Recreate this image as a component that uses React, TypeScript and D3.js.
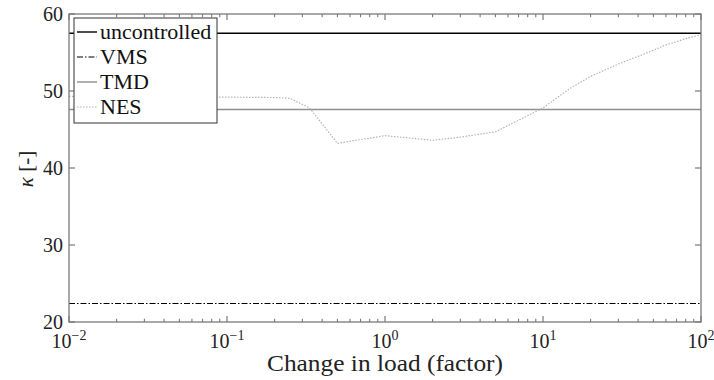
import React from "react";
import * as d3 from "d3";

// Load change factors and damping-ratio curves
const loadRange = [0.01, 100];
const uncontrolled = [57.5, 57.5];
const vms = [22.4, 22.4];
const tmd = [47.6, 47.6];
const nesLoad = [0.01, 0.02, 0.05, 0.1, 0.2, 0.25, 0.333, 0.5, 1, 2, 3, 4, 5, 10, 13, 15, 20, 30, 40, 50, 60, 70, 80, 100];
const nesKappa = [49.3, 49.3, 49.25, 49.2, 49.15, 49.05, 47.8, 43.2, 44.2, 43.6, 44.0, 44.4, 44.7, 47.8, 49.5, 50.4, 51.9, 53.5, 54.5, 55.3, 56.0, 56.4, 56.8, 57.3];
const yTicks = [20, 30, 40, 50, 60];
const xTickExps = [-2, -1, 0, 1, 2];
const legendNames = ["uncontrolled", "VMS", "TMD", "NES"];

const W = 714;
const H = 380;
const left = 69, right = 701, top = 14, bottom = 322;
const axisColor = "#7a7a7a";
const font = "Liberation Serif";

export default function App() {
  const x = d3.scaleLog().domain([0.01, 100]).range([left, right]);
  const y = d3.scaleLinear().domain([20, 60]).range([bottom, top]);
  const line = d3
    .line<[number, number]>()
    .x((d) => x(d[0]))
    .y((d) => y(d[1]));

  const pairs = (xs: number[], ys: number[]) => xs.map((v, i) => [v, ys[i]] as [number, number]);

  const styles = [
    { stroke: "#000", width: 1.4, dash: undefined as string | undefined },
    { stroke: "#000", width: 1.1, dash: "6,2,1.5,2" },
    { stroke: "#8f8f8f", width: 1.4, dash: undefined },
    { stroke: "#b4b4b4", width: 1.2, dash: "1.5,1.5" },
  ];

  const series = [
    pairs(loadRange, uncontrolled),
    pairs(loadRange, vms),
    pairs(loadRange, tmd),
    pairs(nesLoad, nesKappa),
  ];

  // minor log ticks
  const minor: number[] = [];
  for (let e = -2; e < 2; e++) {
    for (let m = 2; m <= 9; m++) minor.push(m * Math.pow(10, e));
  }

  const legendY = [32, 57, 82, 107];

  return (
    <div style={{ position: "absolute", left: 0, top: 0, width: W, height: H, fontFamily: font }}>
      <svg width={W} height={H} fontFamily={font} style={{ display: "block", fontFamily: font }}>
        <rect x={0} y={0} width={W} height={H} fill="#fff" />
        {/* data */}
        <g fill="none">
          {series.map((s, i) => (
            <path
              key={i}
              d={line(s) || ""}
              stroke={styles[i].stroke}
              strokeWidth={styles[i].width}
              strokeDasharray={styles[i].dash}
            />
          ))}
        </g>

        {/* axes box */}
        <rect x={left} y={top} width={right - left} height={bottom - top} fill="none" stroke={axisColor} strokeWidth={1.3} />

        {/* y ticks */}
        {yTicks.map((t) => (
          <g key={t}>
            <line x1={left} x2={left + 6} y1={y(t)} y2={y(t)} stroke={axisColor} strokeWidth={1.2} />
            <line x1={right} x2={right - 6} y1={y(t)} y2={y(t)} stroke={axisColor} strokeWidth={1.2} />
            <text x={63} y={y(t) + 7} textAnchor="end" fontSize={20} fill="#222" fontFamily={font}>
              {t}
            </text>
          </g>
        ))}

        {/* x ticks */}
        {xTickExps.map((e) => {
          const px = x(Math.pow(10, e));
          return (
            <g key={e}>
              <line x1={px} x2={px} y1={bottom} y2={bottom - 6} stroke={axisColor} strokeWidth={1.2} />
              <line x1={px} x2={px} y1={top} y2={top + 6} stroke={axisColor} strokeWidth={1.2} />
              <text x={px} y={348} textAnchor="middle" fontSize={20} fill="#222" fontFamily={font}>
                10
                <tspan fontSize={14} dy={-8}>
                  {e < 0 ? "\u2212" + Math.abs(e) : String(e)}
                </tspan>
              </text>
            </g>
          );
        })}
        {minor.map((m, i) => (
          <g key={i}>
            <line x1={x(m)} x2={x(m)} y1={bottom} y2={bottom - 3.3} stroke={axisColor} strokeWidth={1.1} />
            <line x1={x(m)} x2={x(m)} y1={top} y2={top + 3.3} stroke={axisColor} strokeWidth={1.1} />
          </g>
        ))}

        {/* axis titles */}
        <text
          x={(left + right) / 2}
          y={371}
          textAnchor="middle"
          fontSize={24}
          fill="#222"
          fontFamily={font}
          textLength={236}
          lengthAdjust="spacingAndGlyphs"
        >
          Change in load (factor)
        </text>
        <text transform={`translate(33,169) rotate(-90)`} textAnchor="middle" fontSize={21} fill="#222" fontFamily={font}>
          <tspan fontStyle="italic">κ</tspan> [-]
        </text>

        {/* legend */}
        <rect x={74} y={18} width={143} height={105} fill="#fff" stroke="#333" strokeWidth={1} />
        {legendNames.map((n, i) => (
          <g key={n}>
            <line
              x1={77}
              x2={97}
              y1={legendY[i]}
              y2={legendY[i]}
              stroke={styles[i].stroke}
              strokeWidth={styles[i].width}
              strokeDasharray={styles[i].dash}
            />
            <text x={100} y={legendY[i] + 7} fontSize={22} fill="#111" fontFamily={font}>
              {n}
            </text>
          </g>
        ))}
      </svg>
    </div>
  );
}
